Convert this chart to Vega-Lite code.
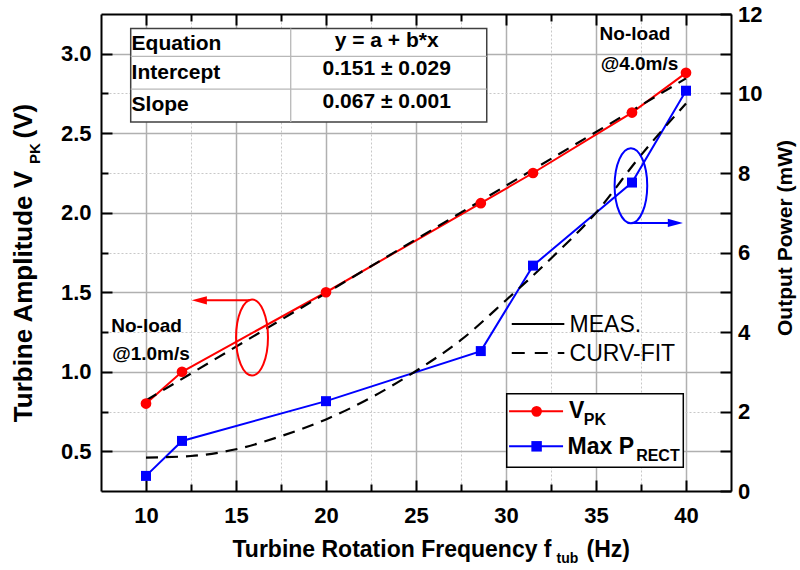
{
  "$schema": "https://vega.github.io/schema/vega-lite/v6.json",
  "width": 630,
  "height": 477,
  "autosize": {"type": "none"},
  "padding": {"left": 101, "top": 14, "right": 69, "bottom": 79},
  "background": "white",
  "view": {"stroke": null},
  "config": {"font": "Liberation Sans", "text": {"font": "Liberation Sans"}},
  "datasets": {
    "vpk": [
      {"f": 10, "v": 0.80}, {"f": 12, "v": 1.00}, {"f": 20, "v": 1.50}, {"f": 28.6, "v": 2.06},
      {"f": 31.5, "v": 2.25}, {"f": 37, "v": 2.63}, {"f": 40, "v": 2.88}
    ],
    "prect": [
      {"f": 10, "p": 0.38}, {"f": 12, "p": 1.26}, {"f": 20, "p": 2.26}, {"f": 28.6, "p": 3.52},
      {"f": 31.5, "p": 5.67}, {"f": 37, "p": 7.76}, {"f": 40, "p": 10.07}
    ],
    "vfit": [{"f": 10, "v": 0.82}, {"f": 40, "v": 2.845}],
    "pfit": [
      {"f": 10, "p": 0.84}, {"f": 12.5, "p": 0.88}, {"f": 15, "p": 1.05}, {"f": 17.5, "p": 1.38},
      {"f": 20, "p": 1.8}, {"f": 22.5, "p": 2.35}, {"f": 25, "p": 3.02}, {"f": 27.5, "p": 3.8},
      {"f": 30, "p": 4.8}, {"f": 32.5, "p": 5.85}, {"f": 35, "p": 7.0}, {"f": 37.5, "p": 8.45},
      {"f": 40, "p": 9.75}
    ],
    "table_box": [{"f": 9.15, "f2": 28.93, "v": 2.571, "v2": 3.159}],
    "table_lines": [
      {"f": 18.04, "f2": 18.04, "v": 2.571, "v2": 3.159},
      {"f": 9.15, "f2": 28.93, "v": 2.983, "v2": 2.983},
      {"f": 9.15, "f2": 28.93, "v": 2.778, "v2": 2.778}
    ],
    "table_left": [
      {"label": "Equation", "f": 9.2, "v": 3.025},
      {"label": "Intercept", "f": 9.2, "v": 2.841},
      {"label": "Slope", "f": 9.2, "v": 2.637}
    ],
    "table_right": [
      {"label": "y = a + b*x", "f": 23.37, "v": 3.044},
      {"label": "0.151 ± 0.029", "f": 23.37, "v": 2.868},
      {"label": "0.067 ± 0.001", "f": 23.37, "v": 2.659}
    ],
    "notes": [
      {"label": "No-load", "f": 8.07, "v": 1.248},
      {"label": "@1.0m/s", "f": 8.12, "v": 1.072},
      {"label": "No-load", "f": 35.2, "v": 3.088},
      {"label": "@4.0m/s", "f": 35.26, "v": 2.899}
    ],
    "style_solid": [{"f": 30.32, "f2": 33.24, "v": 1.301}],
    "style_dash": [{"f": 30.32, "f2": 33.24, "v": 1.118}],
    "style_text": [
      {"label": "MEAS.", "f": 33.53, "v": 1.2506},
      {"label": "CURV-FIT", "f": 33.53, "v": 1.066}
    ],
    "legend_box": [{"f": 30.04, "f2": 39.85, "v": 0.399, "v2": 0.861}],
    "legend_red": [{"f": 30.17, "f2": 33.17, "v": 0.751, "fm": 31.7}],
    "legend_blue": [{"f": 30.17, "f2": 33.17, "v": 0.531, "fm": 31.7}],
    "legend_text": [
      {"label": "V", "f": 33.5, "v": 0.710},
      {"label": "Max P", "f": 33.42, "v": 0.4855}
    ],
    "legend_sub": [
      {"label": "PK", "f": 34.32, "v": 0.664},
      {"label": "RECT", "f": 37.23, "v": 0.437}
    ],
    "ellipse_red": [{"f": 15.89, "v": 1.215}],
    "ellipse_blue": [{"f": 36.94, "v": 2.170}],
    "arrow_red": [{"f": 15.78, "f2": 13.0, "v": 1.449, "fh": 12.96}],
    "arrow_blue": [{"f": 36.98, "f2": 39.4, "v": 1.936, "fh": 39.41}]
  },
  "resolve": {"scale": {"y": "independent"}, "axis": {"x": "independent", "y": "independent"}},
  "layer": [
    {
      "data": {"name": "vpk"},
      "mark": {"type": "line", "color": "#ff0000", "strokeWidth": 2},
      "encoding": {
        "x": {"field": "f", "type": "quantitative", "scale": {"domain": [7.5, 42.5], "nice": false, "zero": false},
          "axis": {
            "orient": "bottom",
            "values": [10, 12.5, 15, 17.5, 20, 22.5, 25, 27.5, 30, 32.5, 35, 37.5, 40],
            "labelExpr": "datum.value % 5 == 0 ? format(datum.value, 'd') : ''",
            "grid": true,
            "gridColor": {"condition": {"test": "datum.value % 5 == 0", "value": "#b0b0b0"}, "value": "#c8c8c8"},
            "gridDash": {"condition": {"test": "datum.value % 5 == 0", "value": []}, "value": [2, 2]},
            "gridWidth": {"condition": {"test": "datum.value % 5 == 0", "value": 1.5}, "value": 1},
            "tickSize": {"condition": {"test": "datum.value % 5 == 0", "value": -11}, "value": -7},
            "tickColor": "black", "tickWidth": 2,
            "domain": true, "domainColor": "black", "domainWidth": 2,
            "labelFontSize": 22, "labelFontWeight": "bold", "labelColor": "black", "labelPadding": 25,
            "labelFlush": false, "labelOverlap": false,
            "title": "Turbine Rotation Frequency f", "titleFontSize": 23, "titleFontWeight": "bold", "titleColor": "black",
            "titleX": 131, "titleY": 65.7, "titleAlign": "left", "titleBaseline": "alphabetic", "titleAngle": 0
          }},
        "y": {"field": "v", "type": "quantitative", "scale": {"domain": [0.25, 3.25], "nice": false, "zero": false},
          "axis": {
            "orient": "left",
            "values": [0.5, 0.75, 1.0, 1.25, 1.5, 1.75, 2.0, 2.25, 2.5, 2.75, 3.0],
            "labelExpr": "datum.value % 0.5 == 0 ? format(datum.value, '.1f') : ''",
            "grid": true,
            "gridColor": {"condition": {"test": "datum.value % 0.5 == 0", "value": "#b0b0b0"}, "value": "#c8c8c8"},
            "gridDash": {"condition": {"test": "datum.value % 0.5 == 0", "value": []}, "value": [2, 2]},
            "gridWidth": {"condition": {"test": "datum.value % 0.5 == 0", "value": 1.5}, "value": 1},
            "tickSize": {"condition": {"test": "datum.value % 0.5 == 0", "value": -11}, "value": -7},
            "tickColor": "black", "tickWidth": 2,
            "domain": true, "domainColor": "black", "domainWidth": 2,
            "labelFontSize": 22, "labelFontWeight": "bold", "labelColor": "black", "labelPadding": 21,
            "labelFlush": false, "labelOverlap": false,
            "title": "Turbine Amplitude V", "titleFontSize": 26, "titleFontWeight": "bold", "titleColor": "black",
            "titleX": -69.3, "titleY": 407.7, "titleAlign": "left", "titleBaseline": "alphabetic", "titleAngle": 270
          }}
      }
    },
    {
      "data": {"name": "vfit"},
      "mark": {"type": "line", "color": "black", "strokeWidth": 2.2, "strokeDash": [12, 8]},
      "encoding": {
        "x": {"field": "f", "type": "quantitative", "scale": {"domain": [7.5, 42.5], "nice": false, "zero": false},
          "axis": {"orient": "bottom", "domain": false, "ticks": false, "labels": false, "grid": false,
            "title": "tub", "titleFontSize": 14, "titleFontWeight": "bold", "titleColor": "black",
            "titleX": 455, "titleY": 71.7, "titleAlign": "left", "titleBaseline": "alphabetic", "titleAngle": 0}},
        "y": {"field": "v", "type": "quantitative", "scale": {"domain": [0.25, 3.25], "nice": false, "zero": false},
          "axis": {"orient": "left", "domain": false, "ticks": false, "labels": false, "grid": false,
            "title": "(V)", "titleFontSize": 26, "titleFontWeight": "bold", "titleColor": "black",
            "titleX": -69.3, "titleY": 89.3, "titleAlign": "right", "titleBaseline": "alphabetic", "titleAngle": 270}}
      }
    },
    {
      "data": {"name": "prect"},
      "mark": {"type": "line", "color": "#0000ff", "strokeWidth": 2},
      "encoding": {
        "x": {"field": "f", "type": "quantitative", "scale": {"domain": [7.5, 42.5], "nice": false, "zero": false},
          "axis": {"orient": "top", "values": [10, 12.5, 15, 17.5, 20, 22.5, 25, 27.5, 30, 32.5, 35, 37.5, 40],
            "labels": false, "grid": false, "title": null,
            "tickSize": {"condition": {"test": "datum.value % 5 == 0", "value": -11}, "value": -7},
            "tickColor": "black", "tickWidth": 2,
            "domain": true, "domainColor": "black", "domainWidth": 2}},
        "y": {"field": "p", "type": "quantitative", "scale": {"domain": [0, 12], "nice": false, "zero": false},
          "axis": {
            "orient": "right",
            "values": [0, 1, 2, 3, 4, 5, 6, 7, 8, 9, 10, 11, 12],
            "labelExpr": "datum.value % 2 == 0 ? format(datum.value, 'd') : ''",
            "grid": false,
            "tickSize": -11, "tickColor": "black", "tickWidth": 2,
            "domain": true, "domainColor": "black", "domainWidth": 2,
            "labelFontSize": 22, "labelFontWeight": "bold", "labelColor": "black", "labelPadding": 17.5,
            "labelFlush": false, "labelOverlap": false,
            "title": "Output Power (mW)", "titleFontSize": 21, "titleFontWeight": "bold", "titleColor": "black",
            "titleX": 60.7, "titleY": 223.5, "titleAlign": "center", "titleBaseline": "alphabetic", "titleAngle": 270
          }}
      }
    },
    {
      "data": {"name": "pfit"},
      "mark": {"type": "line", "color": "black", "strokeWidth": 2.2, "strokeDash": [12, 8], "interpolate": "monotone"},
      "encoding": {
        "x": {"field": "f", "type": "quantitative", "scale": {"domain": [7.5, 42.5], "nice": false, "zero": false},
          "axis": {"orient": "bottom", "domain": false, "ticks": false, "labels": false, "grid": false,
            "title": "(Hz)", "titleFontSize": 23, "titleFontWeight": "bold", "titleColor": "black",
            "titleX": 528.5, "titleY": 65.7, "titleAlign": "right", "titleBaseline": "alphabetic", "titleAngle": 0}},
        "y": {"field": "p", "type": "quantitative", "scale": {"domain": [0, 12], "nice": false, "zero": false}, "axis": null}
      }
    },
    {
      "data": {"name": "vpk"},
      "mark": {"type": "point", "shape": "circle", "filled": true, "size": 115, "color": "#ff0000", "opacity": 1},
      "encoding": {
        "x": {"field": "f", "type": "quantitative", "scale": {"domain": [7.5, 42.5], "nice": false, "zero": false}, "axis": null},
        "y": {"field": "v", "type": "quantitative", "scale": {"domain": [0.25, 3.25], "nice": false, "zero": false},
          "axis": {"orient": "left", "domain": false, "ticks": false, "labels": false, "grid": false,
            "title": "PK", "titleFontSize": 15, "titleFontWeight": "bold", "titleColor": "black",
            "titleX": -61.7, "titleY": 149.5, "titleAlign": "left", "titleBaseline": "alphabetic", "titleAngle": 270}}
      }
    },
    {
      "data": {"name": "prect"},
      "mark": {"type": "point", "shape": "square", "filled": true, "size": 100, "color": "#0000ff", "opacity": 1},
      "encoding": {
        "x": {"field": "f", "type": "quantitative", "scale": {"domain": [7.5, 42.5], "nice": false, "zero": false}, "axis": null},
        "y": {"field": "p", "type": "quantitative", "scale": {"domain": [0, 12], "nice": false, "zero": false}, "axis": null}
      }
    },
    {
      "data": {"name": "table_box"},
      "mark": {"type": "rect", "fill": "white", "stroke": "#404040", "strokeWidth": 1.5},
      "encoding": {
        "x": {"field": "f", "type": "quantitative", "scale": {"domain": [7.5, 42.5], "nice": false, "zero": false}, "axis": null},
        "x2": {"field": "f2"},
        "y": {"field": "v", "type": "quantitative", "scale": {"domain": [0.25, 3.25], "nice": false, "zero": false}, "axis": null},
        "y2": {"field": "v2"}
      }
    },
    {
      "data": {"name": "table_lines"},
      "mark": {"type": "rule", "color": "#b8b8b8", "strokeWidth": 1.3},
      "encoding": {
        "x": {"field": "f", "type": "quantitative", "scale": {"domain": [7.5, 42.5], "nice": false, "zero": false}, "axis": null},
        "x2": {"field": "f2"},
        "y": {"field": "v", "type": "quantitative", "scale": {"domain": [0.25, 3.25], "nice": false, "zero": false}, "axis": null},
        "y2": {"field": "v2"}
      }
    },
    {
      "data": {"name": "table_left"},
      "mark": {"type": "text", "align": "left", "baseline": "alphabetic", "fontSize": 21, "fontWeight": "bold", "color": "black"},
      "encoding": {
        "x": {"field": "f", "type": "quantitative", "scale": {"domain": [7.5, 42.5], "nice": false, "zero": false}, "axis": null},
        "y": {"field": "v", "type": "quantitative", "scale": {"domain": [0.25, 3.25], "nice": false, "zero": false}, "axis": null},
        "text": {"field": "label"}
      }
    },
    {
      "data": {"name": "table_right"},
      "mark": {"type": "text", "align": "center", "baseline": "alphabetic", "fontSize": 21, "fontWeight": "bold", "color": "black"},
      "encoding": {
        "x": {"field": "f", "type": "quantitative", "scale": {"domain": [7.5, 42.5], "nice": false, "zero": false}, "axis": null},
        "y": {"field": "v", "type": "quantitative", "scale": {"domain": [0.25, 3.25], "nice": false, "zero": false}, "axis": null},
        "text": {"field": "label"}
      }
    },
    {
      "data": {"name": "notes"},
      "mark": {"type": "text", "align": "left", "baseline": "alphabetic", "fontSize": 19, "fontWeight": "bold", "color": "black"},
      "encoding": {
        "x": {"field": "f", "type": "quantitative", "scale": {"domain": [7.5, 42.5], "nice": false, "zero": false}, "axis": null},
        "y": {"field": "v", "type": "quantitative", "scale": {"domain": [0.25, 3.25], "nice": false, "zero": false}, "axis": null},
        "text": {"field": "label"}
      }
    },
    {
      "data": {"name": "style_solid"},
      "mark": {"type": "rule", "color": "black", "strokeWidth": 2},
      "encoding": {
        "x": {"field": "f", "type": "quantitative", "scale": {"domain": [7.5, 42.5], "nice": false, "zero": false}, "axis": null},
        "x2": {"field": "f2"},
        "y": {"field": "v", "type": "quantitative", "scale": {"domain": [0.25, 3.25], "nice": false, "zero": false}, "axis": null}
      }
    },
    {
      "data": {"name": "style_dash"},
      "mark": {"type": "rule", "color": "black", "strokeWidth": 2.2, "strokeDash": [13, 10]},
      "encoding": {
        "x": {"field": "f", "type": "quantitative", "scale": {"domain": [7.5, 42.5], "nice": false, "zero": false}, "axis": null},
        "x2": {"field": "f2"},
        "y": {"field": "v", "type": "quantitative", "scale": {"domain": [0.25, 3.25], "nice": false, "zero": false}, "axis": null}
      }
    },
    {
      "data": {"name": "style_text"},
      "mark": {"type": "text", "align": "left", "baseline": "alphabetic", "fontSize": 23, "fontWeight": "normal", "color": "black"},
      "encoding": {
        "x": {"field": "f", "type": "quantitative", "scale": {"domain": [7.5, 42.5], "nice": false, "zero": false}, "axis": null},
        "y": {"field": "v", "type": "quantitative", "scale": {"domain": [0.25, 3.25], "nice": false, "zero": false}, "axis": null},
        "text": {"field": "label"}
      }
    },
    {
      "data": {"name": "legend_box"},
      "mark": {"type": "rect", "fill": "white", "stroke": "black", "strokeWidth": 1.5},
      "encoding": {
        "x": {"field": "f", "type": "quantitative", "scale": {"domain": [7.5, 42.5], "nice": false, "zero": false}, "axis": null},
        "x2": {"field": "f2"},
        "y": {"field": "v", "type": "quantitative", "scale": {"domain": [0.25, 3.25], "nice": false, "zero": false}, "axis": null},
        "y2": {"field": "v2"}
      }
    },
    {
      "data": {"name": "legend_red"},
      "mark": {"type": "rule", "color": "#ff0000", "strokeWidth": 2},
      "encoding": {
        "x": {"field": "f", "type": "quantitative", "scale": {"domain": [7.5, 42.5], "nice": false, "zero": false}, "axis": null},
        "x2": {"field": "f2"},
        "y": {"field": "v", "type": "quantitative", "scale": {"domain": [0.25, 3.25], "nice": false, "zero": false}, "axis": null}
      }
    },
    {
      "data": {"name": "legend_blue"},
      "mark": {"type": "rule", "color": "#0000ff", "strokeWidth": 2},
      "encoding": {
        "x": {"field": "f", "type": "quantitative", "scale": {"domain": [7.5, 42.5], "nice": false, "zero": false}, "axis": null},
        "x2": {"field": "f2"},
        "y": {"field": "v", "type": "quantitative", "scale": {"domain": [0.25, 3.25], "nice": false, "zero": false}, "axis": null}
      }
    },
    {
      "data": {"name": "legend_red"},
      "mark": {"type": "point", "shape": "circle", "filled": true, "size": 115, "color": "#ff0000", "opacity": 1},
      "encoding": {
        "x": {"field": "fm", "type": "quantitative", "scale": {"domain": [7.5, 42.5], "nice": false, "zero": false}, "axis": null},
        "y": {"field": "v", "type": "quantitative", "scale": {"domain": [0.25, 3.25], "nice": false, "zero": false}, "axis": null}
      }
    },
    {
      "data": {"name": "legend_blue"},
      "mark": {"type": "point", "shape": "square", "filled": true, "size": 110, "color": "#0000ff", "opacity": 1},
      "encoding": {
        "x": {"field": "fm", "type": "quantitative", "scale": {"domain": [7.5, 42.5], "nice": false, "zero": false}, "axis": null},
        "y": {"field": "v", "type": "quantitative", "scale": {"domain": [0.25, 3.25], "nice": false, "zero": false}, "axis": null}
      }
    },
    {
      "data": {"name": "legend_text"},
      "mark": {"type": "text", "align": "left", "baseline": "alphabetic", "fontSize": 23, "fontWeight": "bold", "color": "black"},
      "encoding": {
        "x": {"field": "f", "type": "quantitative", "scale": {"domain": [7.5, 42.5], "nice": false, "zero": false}, "axis": null},
        "y": {"field": "v", "type": "quantitative", "scale": {"domain": [0.25, 3.25], "nice": false, "zero": false}, "axis": null},
        "text": {"field": "label"}
      }
    },
    {
      "data": {"name": "legend_sub"},
      "mark": {"type": "text", "align": "left", "baseline": "alphabetic", "fontSize": 16, "fontWeight": "bold", "color": "black"},
      "encoding": {
        "x": {"field": "f", "type": "quantitative", "scale": {"domain": [7.5, 42.5], "nice": false, "zero": false}, "axis": null},
        "y": {"field": "v", "type": "quantitative", "scale": {"domain": [0.25, 3.25], "nice": false, "zero": false}, "axis": null},
        "text": {"field": "label"}
      }
    },
    {
      "data": {"name": "ellipse_red"},
      "mark": {"type": "point", "shape": "M0,-1C0.232,-1 0.42,-0.552 0.42,0C0.42,0.552 0.232,1 0,1C-0.232,1 -0.42,0.552 -0.42,0C-0.42,-0.552 -0.232,-1 0,-1Z", "size": 5776, "filled": false, "color": "#ff0000", "strokeWidth": 2, "opacity": 1},
      "encoding": {
        "x": {"field": "f", "type": "quantitative", "scale": {"domain": [7.5, 42.5], "nice": false, "zero": false}, "axis": null},
        "y": {"field": "v", "type": "quantitative", "scale": {"domain": [0.25, 3.25], "nice": false, "zero": false}, "axis": null}
      }
    },
    {
      "data": {"name": "ellipse_blue"},
      "mark": {"type": "point", "shape": "M0,-1C0.24,-1 0.435,-0.552 0.435,0C0.435,0.552 0.24,1 0,1C-0.24,1 -0.435,0.552 -0.435,0C-0.435,-0.552 -0.24,-1 0,-1Z", "size": 5625, "filled": false, "color": "#0000ff", "strokeWidth": 2, "opacity": 1},
      "encoding": {
        "x": {"field": "f", "type": "quantitative", "scale": {"domain": [7.5, 42.5], "nice": false, "zero": false}, "axis": null},
        "y": {"field": "v", "type": "quantitative", "scale": {"domain": [0.25, 3.25], "nice": false, "zero": false}, "axis": null}
      }
    },
    {
      "data": {"name": "arrow_red"},
      "mark": {"type": "rule", "color": "#ff0000", "strokeWidth": 2},
      "encoding": {
        "x": {"field": "f", "type": "quantitative", "scale": {"domain": [7.5, 42.5], "nice": false, "zero": false}, "axis": null},
        "x2": {"field": "f2"},
        "y": {"field": "v", "type": "quantitative", "scale": {"domain": [0.25, 3.25], "nice": false, "zero": false}, "axis": null}
      }
    },
    {
      "data": {"name": "arrow_red"},
      "mark": {"type": "point", "shape": "M-1,0L1,-0.55L1,0.55Z", "size": 230, "filled": true, "color": "#ff0000", "opacity": 1},
      "encoding": {
        "x": {"field": "fh", "type": "quantitative", "scale": {"domain": [7.5, 42.5], "nice": false, "zero": false}, "axis": null},
        "y": {"field": "v", "type": "quantitative", "scale": {"domain": [0.25, 3.25], "nice": false, "zero": false}, "axis": null}
      }
    },
    {
      "data": {"name": "arrow_blue"},
      "mark": {"type": "rule", "color": "#0000ff", "strokeWidth": 2},
      "encoding": {
        "x": {"field": "f", "type": "quantitative", "scale": {"domain": [7.5, 42.5], "nice": false, "zero": false}, "axis": null},
        "x2": {"field": "f2"},
        "y": {"field": "v", "type": "quantitative", "scale": {"domain": [0.25, 3.25], "nice": false, "zero": false}, "axis": null}
      }
    },
    {
      "data": {"name": "arrow_blue"},
      "mark": {"type": "point", "shape": "M1,0L-1,-0.55L-1,0.55Z", "size": 230, "filled": true, "color": "#0000ff", "opacity": 1},
      "encoding": {
        "x": {"field": "fh", "type": "quantitative", "scale": {"domain": [7.5, 42.5], "nice": false, "zero": false}, "axis": null},
        "y": {"field": "v", "type": "quantitative", "scale": {"domain": [0.25, 3.25], "nice": false, "zero": false}, "axis": null}
      }
    }
  ]
}
